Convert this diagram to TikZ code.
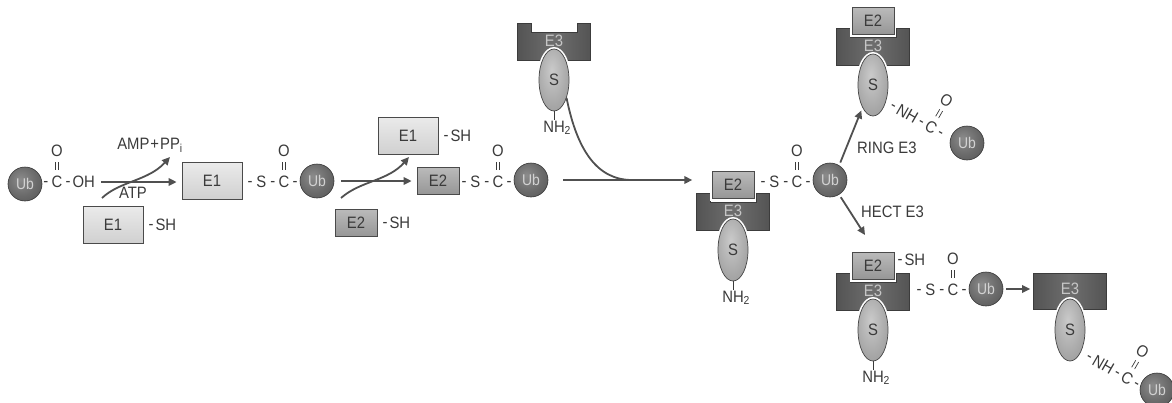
\documentclass[tikz,border=0pt]{standalone}
\usepackage{fontspec}
\setmainfont{Liberation Sans}[FakeStretch=0.9]
\usetikzlibrary{arrows.meta,shapes.geometric}

% palette
\definecolor{ink}{HTML}{3A3A3A}
\definecolor{arrowgray}{HTML}{505050}
\definecolor{ubhi}{HTML}{8C8C8C}
\definecolor{ubmid}{HTML}{6A6A6A}
\definecolor{ublo}{HTML}{484848}
\definecolor{ubedge}{HTML}{363636}
\definecolor{ubtext}{HTML}{D2D2D2}
\definecolor{shi}{HTML}{CACACA}
\definecolor{smid}{HTML}{A8A8A8}
\definecolor{slo}{HTML}{888888}
\definecolor{sedge}{HTML}{464646}
\definecolor{e1top}{HTML}{EAEAEA}
\definecolor{e1bot}{HTML}{D0D0D0}
\definecolor{e2top}{HTML}{BABABA}
\definecolor{e2bot}{HTML}{969696}
\definecolor{boxedge}{HTML}{4A4A4A}
\definecolor{e3dark}{HTML}{545454}
\definecolor{e3light}{HTML}{6E6E6E}
\definecolor{e3edge}{HTML}{3C3C3C}
\definecolor{e3txt}{HTML}{C6C6C6}

\pgfdeclareradialshading{ubshade}{\pgfpoint{-7bp}{7bp}}{color(0bp)=(ubhi); color(22bp)=(ubmid); color(50bp)=(ublo); color(75bp)=(ublo)}
\pgfdeclareradialshading{sshade}{\pgfpoint{-4bp}{8bp}}{color(0bp)=(shi); color(25bp)=(smid); color(50bp)=(slo); color(75bp)=(slo)}

% single bond written as a hyphen raised to the middle of the capitals
\newcommand\bdash{\raisebox{1.4pt}{-}}

\tikzset{
  txt/.style={inner sep=0pt, text height=11.8pt, text depth=0pt, text=ink,
              font=\fontsize{16.5}{19}\selectfont},
  ub/.style={circle, minimum size=34pt, inner sep=0pt, draw=ubedge, line width=0.6pt,
             shade, shading=ubshade, text=ubtext, font=\fontsize{15.5}{18}\selectfont},
  enzA/.style={txt, draw=boxedge, line width=0.8pt, top color=e1top, bottom color=e1bot,
               minimum width=60pt, minimum height=37pt},
  enzB/.style={txt, draw=boxedge, line width=0.8pt, top color=e2top, bottom color=e2bot,
               minimum width=42pt, minimum height=27pt},
  halo/.style={preaction={draw=white, line width=4pt}},
  subst/.style={ellipse, txt, minimum width=30pt, minimum height=62pt, draw=sedge,
                line width=0.7pt, shade, shading=sshade},
  ligase/.style={draw=e3edge, line width=0.7pt, left color=e3dark, right color=e3dark,
                 middle color=e3light},
  e3text/.style={txt, text=e3txt},
  flow/.style={draw=arrowgray, line width=1.8pt, -{Triangle[length=8pt,width=7.5pt]}},
  flowline/.style={draw=arrowgray, line width=1.8pt},
  bond/.style={draw=ink, line width=0.7pt},
}

% carbonyl group: name, x of C, y, text on the left, text on the right
\newcommand\carbonyl[5]{%
  \node[txt] (#1-c) at (#2,#3) {C};
  \node[txt,anchor=east] (#1-l) at ({#2-8.5},#3) {#4};
  \node[txt,anchor=west] (#1-r) at ({#2+8.5},#3) {#5};
  \node[txt] (#1-o) at (#2,{#3-31}) {O};
  \draw[bond] ({#2-1.7},{#3-20}) -- ({#2-1.7},{#3-12})
              ({#2+1.7},{#3-20}) -- ({#2+1.7},{#3-12});
}

% E3 with a notch on top: name, centre x, top y
\newcommand\ligasecup[3]{%
  \path[ligase] ({#2-36.5},#3) -- ({#2-23},#3) -- ({#2-23},{#3+9}) -- ({#2+23},{#3+9})
     -- ({#2+23},#3) -- ({#2+36.5},#3) -- ({#2+36.5},{#3+37}) -- ({#2-36.5},{#3+37}) -- cycle;
  \node[inner sep=0pt, minimum width=73pt, minimum height=37pt] (#1) at (#2,{#3+18.5}) {};
  \node[e3text] (#1-lbl) at (#2,{#3+18}) {E3};
}

% substrate hanging below an E3: name, centre x, top y of the E3
\newcommand\substrate[3]{%
  \node[subst, halo] (#1) at (#2,{#3+57}) {S};
}
\newcommand\aminoend[1]{%
  \node[txt, anchor=north] (#1-n) at ([yshift=-9pt]#1.south) {NH\rlap{\textsubscript{2}}};
  \draw[bond] (#1.south) -- (#1-n.north);
}

\begin{document}
\begin{tikzpicture}[x=1pt, y=-1pt]
\useasboundingbox (0,0) rectangle (1172,402);

% ---------- Ub-COOH + E1-SH ----------
\node[ub] (ub0) at (25,184) {Ub};
\carbonyl{acid}{57}{182}{\bdash}{\bdash\kern2pt OH}
\node[enzA] (e1free) at (113,225) {E1};
\node[txt, anchor=west] (e1free-sh) at ([xshift=5pt]e1free.east) {\bdash\kern2pt SH};

\node[enzA] (e1ub) at (212,181) {E1};
\draw[flow, shorten <=6pt, shorten >=5pt] (acid-r.east) -- (acid-r.east -| e1ub.west);
\coordinate (atpin) at (102,198);
\coordinate (ampout) at (170,157);
\draw[flow] (atpin) .. controls (120,181) and (148,181) .. (ampout);
\node[txt] (amp) at (150,144) {AMP\kern1pt+\kern1pt PP\textsubscript{i}};
\node[txt] (atp) at (133,193) {ATP};

\carbonyl{tE1}{284}{182}{\bdash\kern4pt S\kern4pt\bdash}{\bdash}
\node[ub] (ub1) at (317,181) {Ub};

% ---------- transfer to E2 ----------
\node[enzA] (e1back) at (408,136) {E1};
\node[txt, anchor=west] (e1back-sh) at ([xshift=5pt]e1back.east) {\bdash\kern2pt SH};
\node[enzB] (e2free) at (356,223) {E2};
\node[txt, anchor=west] (e2free-sh) at ([xshift=5pt]e2free.east) {\bdash\kern2pt SH};

\node[enzB] (e2ub) at (438,181) {E2};
\draw[flow, shorten <=7pt, shorten >=5pt] (ub1.east) -- (ub1.east -| e2ub.west);
\coordinate (e2in) at (341,198);
\coordinate (e1out) at (409,157);
\draw[flow] (e2in) .. controls (360,181) and (388,181) .. (e1out);

\carbonyl{tE2}{498}{182}{\bdash\kern4pt S\kern4pt\bdash}{\bdash}
\node[ub] (ub2) at (531,180) {Ub};

% ---------- E3 with substrate joins ----------
\ligasecup{e3top}{554}{23}
\substrate{stop}{554}{23}
\aminoend{stop}

\ligasecup{e3mid}{733}{193}
\substrate{smid}{733}{193}
\aminoend{smid}
\node[enzB, halo] (e2mid) at (733,185) {E2};

\draw[flow, shorten <=15pt, shorten >=4pt] (ub2.east) -- (ub2.east -| e3mid.west);
\coordinate (merge) at (632,180);
\draw[flowline] (stop.-55) .. controls (577,150) and (597,180) .. (merge);

\carbonyl{tE3}{797}{182}{\bdash\kern4pt S\kern4pt\bdash}{\bdash}
\node[ub] (ub3) at (830,180) {Ub};

% ---------- RING E3 branch ----------
\ligasecup{e3ring}{873}{28}
\substrate{sring}{873}{28}
\node[enzB, halo] (e2ring) at (873,21) {E2};
\begin{scope}[shift={(887,102)}, rotate=-30, transform shape]
  \carbonyl{iso1}{51}{0}{\bdash\kern3pt NH\kern3pt\bdash}{\bdash}
\end{scope}
\node[ub] (ub5) at (967,143) {Ub};
\draw[flow, shorten <=3pt, shorten >=3pt] (ub3.58) -- (sring.245);
\node[txt, anchor=west] (ringlbl) at (857,148) {RING E3};

% ---------- HECT E3 branch ----------
\coordinate (hecttip) at (865,235);
\draw[flow, shorten <=3pt] (ub3.-58) -- (hecttip);
\node[txt, anchor=west] (hectlbl) at (861,212) {HECT E3};

\ligasecup{e3hect}{873}{273}
\substrate{shect}{873}{273}
\aminoend{shect}
\node[enzB, halo] (e2hect) at (873,266) {E2};
\node[txt, anchor=west] (e2hect-sh) at ([xshift=3pt,yshift=6pt]e2hect.east) {\bdash\kern2pt SH};
\carbonyl{tE4}{953}{290}{\bdash\kern4pt S\kern4pt\bdash}{\bdash}
\node[ub] (ub4) at (986,289) {Ub};

\node[ligase, minimum width=73pt, minimum height=36pt, inner sep=0pt] (e3fin) at (1070,291) {};
\node[e3text] (e3fin-lbl) at (1070,289) {E3};
\node[subst, halo] (sfin) at (1070,330) {S};
\draw[flow, shorten <=3pt, shorten >=3pt] (ub4.east) -- (ub4.east -| e3fin.west);
\begin{scope}[shift={(1083,353)}, rotate=-30, transform shape]
  \carbonyl{iso2}{51}{0}{\bdash\kern3pt NH\kern3pt\bdash}{\bdash}
\end{scope}
\node[ub] (ub6) at (1157,390) {Ub};
\end{tikzpicture}
\end{document}
